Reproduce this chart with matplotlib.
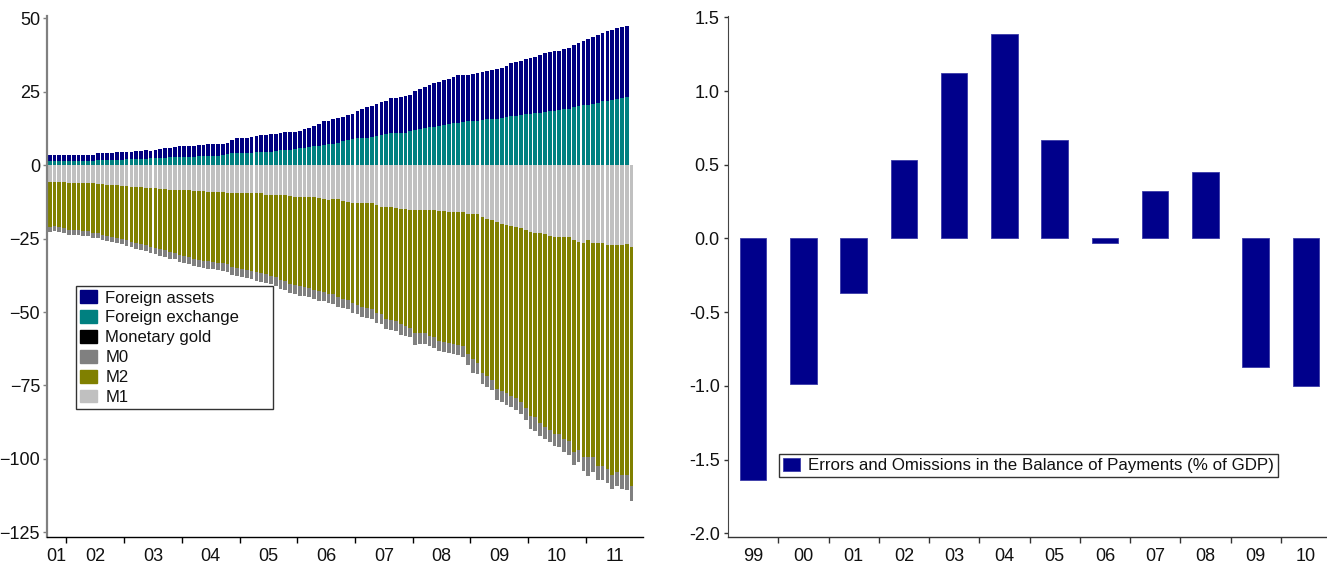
import numpy as np
import matplotlib.pyplot as plt
from matplotlib.patches import Patch

plt.rcParams['font.family'] = ['Liberation Sans', 'DejaVu Sans']

# left panel: monthly, Sep 2001 - Oct 2011
year_labels = ['01', '02', '03', '04', '05', '06', '07', '08', '09', '10', '11']

foreign_assets = [
    3.5, 3.5, 3.5, 3.5, 3.5, 3.5, 3.5, 3.5, 3.5, 3.5,
    4.0, 4.0, 4.1, 4.1, 4.5, 4.5, 4.4, 4.6, 4.9, 5.0,
    5.1, 5.0, 5.3, 5.5, 5.9, 6.0, 6.3, 6.5, 6.6, 6.5,
    6.6, 6.8, 7.0, 7.1, 7.1, 7.2, 7.3, 7.7, 8.5, 9.1,
    9.3, 9.4, 9.5, 9.8, 10.2, 10.4, 10.5, 10.6, 11.0, 11.2,
    11.3, 11.4, 11.6, 12.4, 12.8, 13.2, 13.9, 14.9, 14.9, 15.6,
    16.0, 16.4, 17.0, 17.6, 18.4, 19.0, 19.7, 20.1, 20.7, 21.4,
    21.8, 22.8, 22.8, 23.2, 23.5, 23.8, 25.3, 25.9, 26.5, 27.2,
    27.9, 28.2, 28.9, 29.3, 29.9, 30.6, 30.6, 30.8, 31.0, 31.3,
    31.6, 32.0, 32.3, 32.7, 33.0, 33.7, 34.7, 35.0, 35.4, 36.0,
    36.4, 36.7, 37.4, 38.1, 38.4, 38.8, 38.8, 39.5, 39.8, 40.8,
    41.5, 42.2, 42.9, 43.5, 44.2, 44.9, 45.6, 45.9, 46.6, 46.9,
    47.3,
]
foreign_exchange = [
    1.4, 1.4, 1.4, 1.4, 1.4, 1.4, 1.4, 1.4, 1.4, 1.4,
    1.6, 1.6, 1.7, 1.7, 1.9, 1.9, 2.0, 2.0, 2.0, 2.0,
    2.1, 2.5, 2.6, 2.6, 2.6, 2.7, 2.7, 2.7, 2.8, 2.8,
    2.9, 3.1, 3.1, 3.1, 3.2, 3.3, 3.6, 3.9, 4.0, 4.0,
    4.1, 4.2, 4.3, 4.4, 4.5, 4.5, 4.6, 4.8, 5.1, 5.3,
    5.3, 5.5, 5.7, 6.0, 6.2, 6.4, 6.7, 7.0, 7.1, 7.1,
    7.5, 8.2, 8.5, 8.8, 9.2, 9.3, 9.4, 9.6, 9.9, 10.2,
    10.5, 10.9, 10.9, 11.1, 11.1, 11.6, 11.9, 12.2, 12.6, 12.9,
    12.9, 13.3, 13.6, 13.9, 14.3, 14.3, 14.6, 15.0, 15.0, 15.0,
    15.3, 15.6, 15.6, 15.6, 16.0, 16.3, 16.7, 16.7, 17.0, 17.3,
    17.5, 17.7, 17.8, 18.1, 18.4, 18.4, 18.7, 19.0, 19.0, 19.7,
    20.1, 20.4, 20.6, 21.0, 21.3, 21.7, 22.0, 22.1, 22.4, 22.8,
    23.1,
]
m1 = [
    -5.7, -5.7, -5.8, -5.8, -5.9, -6.0, -6.0, -6.0, -6.1, -6.2,
    -6.3, -6.5, -6.6, -6.8, -6.9, -7.0, -7.1, -7.3, -7.4, -7.4,
    -7.6, -7.8, -7.9, -8.1, -8.2, -8.3, -8.4, -8.5, -8.5, -8.6,
    -8.7, -8.8, -8.8, -9.0, -9.1, -9.2, -9.2, -9.5, -9.6, -9.6,
    -9.4, -9.5, -9.4, -9.5, -9.6, -10.0, -10.2, -10.2, -10.2, -10.3,
    -10.6, -10.7, -10.7, -10.8, -10.8, -10.9, -11.2, -11.5, -11.7, -11.6,
    -11.6, -12.3, -12.5, -12.9, -12.9, -12.9, -12.9, -13.0, -13.5, -14.2,
    -14.2, -14.4, -14.7, -14.8, -14.8, -15.4, -15.4, -15.3, -15.3, -15.3,
    -15.3, -15.6, -15.7, -16.0, -16.0, -16.0, -16.0, -16.7, -16.7, -16.7,
    -17.7, -18.2, -18.6, -19.4, -19.9, -20.3, -20.6, -21.2, -21.5, -22.2,
    -22.8, -23.0, -23.2, -23.3, -24.1, -24.3, -24.3, -24.4, -24.5, -25.4,
    -26.1, -26.5, -25.6, -26.5, -26.5, -26.5, -27.3, -27.2, -27.3, -27.2,
    -26.8, -27.9,
]
m2 = [
    -21.0, -20.8, -21.2, -21.5, -21.9, -22.1, -22.1, -22.5, -22.5, -23.0,
    -23.2, -23.8, -24.2, -24.4, -24.7, -25.2, -25.6, -26.0, -26.6, -27.0,
    -27.3, -27.9, -28.3, -28.6, -29.0, -29.5, -29.8, -30.6, -30.9, -31.2,
    -31.8, -32.2, -32.5, -32.7, -32.9, -33.2, -33.4, -33.8, -34.8, -35.0,
    -35.3, -35.6, -36.0, -36.4, -36.8, -37.2, -37.6, -38.0, -39.0, -39.5,
    -40.5, -40.9, -41.3, -41.6, -41.9, -42.5, -42.9, -43.1, -43.7, -44.0,
    -45.0, -45.4, -45.8, -47.0, -47.5, -48.3, -48.6, -49.0, -50.2, -50.7,
    -52.3, -52.7, -53.1, -54.2, -54.6, -55.6, -57.0, -57.0, -57.3, -58.2,
    -58.6, -59.9, -60.1, -60.4, -60.9, -61.2, -61.6, -64.3, -66.1, -67.2,
    -70.6, -71.8, -73.1, -76.3, -76.9, -77.4, -78.6, -79.4, -80.5, -82.8,
    -85.4, -85.9, -87.9, -89.0, -90.1, -91.5, -91.5, -93.1, -93.9, -97.5,
    -96.9, -99.2, -99.5, -99.5, -102.3, -102.3, -103.4, -105.4, -104.4, -105.4,
    -105.4, -109.1,
]
m0 = [
    -22.7, -22.5, -22.9, -23.2, -23.6, -23.8, -23.8, -24.2, -24.2, -24.7,
    -24.9, -25.5, -25.9, -26.1, -26.4, -27.0, -27.4, -27.9, -28.5, -29.0,
    -29.3, -30.0, -30.4, -30.8, -31.2, -31.8, -32.1, -33.0, -33.3, -33.6,
    -34.3, -34.7, -35.0, -35.3, -35.5, -35.8, -36.1, -36.5, -37.5, -37.8,
    -38.1, -38.4, -38.9, -39.3, -39.7, -40.2, -40.6, -41.0, -42.0, -42.5,
    -43.5, -44.0, -44.4, -44.7, -45.0, -45.7, -46.1, -46.3, -46.9, -47.2,
    -48.3, -48.7, -49.1, -50.3, -50.8, -51.7, -52.0, -52.4, -53.6, -54.1,
    -55.8, -56.2, -56.6, -57.7, -58.1, -58.6, -61.2, -60.9, -60.9, -61.6,
    -62.1, -63.2, -63.6, -63.8, -64.3, -64.5, -65.2, -68.0, -70.6, -71.1,
    -74.5, -75.4, -76.5, -79.9, -80.5, -81.6, -82.5, -83.3, -84.7, -86.7,
    -89.8, -90.5, -92.2, -93.2, -94.2, -95.6, -96.0, -97.6, -98.6, -102.0,
    -101.2, -104.1, -105.8, -104.4, -107.1, -107.1, -108.2, -110.2, -109.1, -110.2,
    -110.5, -114.3,
]

# right panel: annual
bop_years = ['99', '00', '01', '02', '03', '04', '05', '06', '07', '08', '09', '10']
errors_omissions = [-1.64, -0.99, -0.37, 0.53, 1.12, 1.39, 0.67, -0.03, 0.32, 0.45, -0.87, -1.00]

NAVY = '#000080'
TEAL = '#008080'
GRAY = '#808080'
OLIVE = '#808000'
SILVER = '#c0c0c0'
TXT = '#111111'

fig = plt.figure(figsize=(13.27, 5.67), dpi=100)

# ---------- left ----------
ax = fig.add_axes([47 / 1327, 30 / 567, 596 / 1327, 521 / 567])
months = np.arange(len(m1))
fx = months[:len(foreign_assets)]
w = 0.78
ax.bar(months, m0, width=w, color=GRAY, linewidth=0)
ax.bar(months, m2, width=w, color=OLIVE, linewidth=0)
ax.bar(months, m1, width=w, color=SILVER, linewidth=0)
ax.bar(fx, foreign_assets, width=w, color=NAVY, linewidth=0)
ax.bar(fx, foreign_exchange, width=w, color=TEAL, linewidth=0)

ax.set_xlim(-0.55, 123.4)
ax.set_ylim(-126.6, 50.8)
ax.set_yticks([50, 25, 0, -25, -50, -75, -100, -125])

# year boundaries as ticks, labels centred on the year
bounds = [3.5 + 12 * k for k in range(len(year_labels) - 1)]
centers = [(ax.get_xlim()[0] + 3.5) / 2] + [b + 6 for b in bounds]
ax.set_xticks(bounds)
ax.set_xticklabels([])
ax.set_xticks(centers, minor=True)
ax.set_xticklabels(year_labels, minor=True)
ax.tick_params(axis='x', which='major', length=4, width=1, color='black', direction='out')
ax.tick_params(axis='x', which='minor', length=0, pad=8, labelsize=13, labelcolor=TXT)
ax.tick_params(axis='y', length=3, width=1, color=GRAY, pad=2, labelsize=13, labelcolor=TXT)

for s in ['top', 'right']:
    ax.spines[s].set_visible(False)
ax.spines['left'].set_color(GRAY)
ax.spines['left'].set_linewidth(1.6)
ax.spines['bottom'].set_color('black')
ax.spines['bottom'].set_linewidth(1.0)

handles = [Patch(color=NAVY), Patch(color=TEAL), Patch(color='black'),
           Patch(color=GRAY), Patch(color=OLIVE), Patch(color=SILVER)]
labels = ['Foreign assets', 'Foreign exchange', 'Monetary gold', 'M0', 'M2', 'M1']
leg = ax.legend(handles, labels, loc='lower left',
                bbox_to_anchor=(29 / 596, 128 / 521, 197 / 596, 122 / 521),
                mode='expand', borderaxespad=0, fancybox=False, frameon=True,
                edgecolor='#333333', framealpha=1, fontsize=12,
                handlelength=1.0, handleheight=0.8, handletextpad=0.5,
                labelspacing=0.28, borderpad=0.25)
leg.get_frame().set_linewidth(1.0)
for t in leg.get_texts():
    t.set_color(TXT)

# ---------- right ----------
ax2 = fig.add_axes([728 / 1327, 30 / 567, 598 / 1327, 521 / 567])
pos = np.arange(len(bop_years))
ax2.bar(pos, errors_omissions, width=0.53, color='#00008b', edgecolor='#3a3aa8',
        linewidth=0.6, label='Errors and Omissions in the Balance of Payments (% of GDP)')
ax2.set_xlim(-0.5, 11.4)
ax2.set_ylim(-2.025, 1.509)
ax2.set_yticks(np.arange(-2.0, 1.51, 0.5))
ax2.set_yticklabels(['%.1f' % v for v in np.arange(-2.0, 1.51, 0.5)])
ax2.set_xticks(pos[:-1] + 0.5)
ax2.set_xticklabels([])
ax2.set_xticks(pos, minor=True)
ax2.set_xticklabels(bop_years, minor=True)
ax2.tick_params(axis='x', which='major', length=4, width=1, color='#333333', direction='out')
ax2.tick_params(axis='x', which='minor', length=0, pad=8, labelsize=13, labelcolor=TXT)
ax2.tick_params(axis='y', length=3, width=1, color='#333333', pad=3, labelsize=13, labelcolor=TXT)
for s in ['top', 'right']:
    ax2.spines[s].set_visible(False)
ax2.spines['left'].set_color('#444444')
ax2.spines['left'].set_linewidth(0.8)
ax2.spines['bottom'].set_color('#333333')
ax2.spines['bottom'].set_linewidth(1.0)

leg2 = ax2.legend(loc='lower left', bbox_to_anchor=(51 / 598, 60 / 521),
                  borderaxespad=0, fancybox=False, frameon=True,
                  edgecolor='#333333', framealpha=1, fontsize=12.2,
                  handlelength=1.0, handleheight=0.8, handletextpad=0.5,
                  borderpad=0.22)
leg2.get_frame().set_linewidth(1.0)
for t in leg2.get_texts():
    t.set_color(TXT)

fig.savefig('out.png', dpi=100)
